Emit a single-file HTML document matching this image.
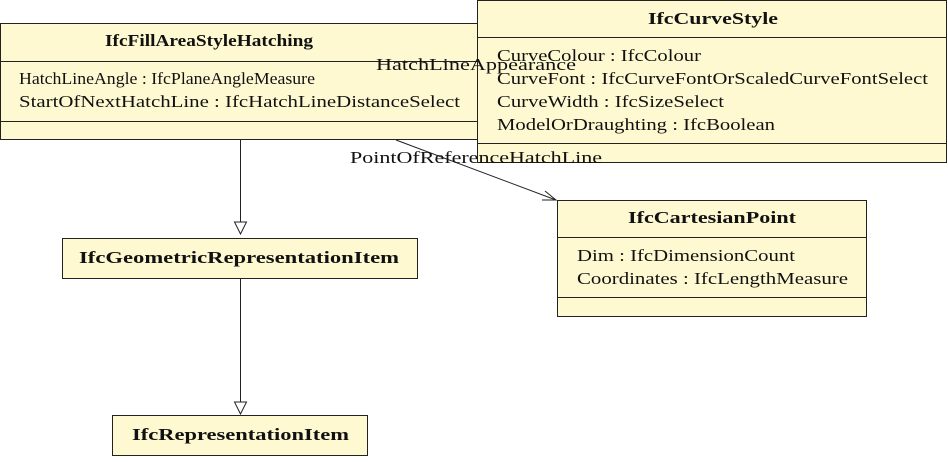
<!DOCTYPE html>
<html><head><meta charset="utf-8"><style>
body{margin:0;background:#fff;}
svg text{font-family:"Liberation Serif",serif;font-size:17px;fill:#111;}
.b{font-weight:bold;}
</style></head><body>
<svg width="948" height="457" viewBox="0 0 948 457" xmlns="http://www.w3.org/2000/svg">
<g stroke="#222" stroke-width="1" fill="#fff9d2">
<rect x="0.5" y="23.5" width="478" height="116"/>
<line x1="0" y1="61.5" x2="478" y2="61.5"/>
<line x1="0" y1="121.5" x2="478" y2="121.5"/>
</g>
<text class="b" x="105" y="46" textLength="208" lengthAdjust="spacingAndGlyphs">IfcFillAreaStyleHatching</text>
<text x="19" y="84" textLength="296" lengthAdjust="spacingAndGlyphs">HatchLineAngle : IfcPlaneAngleMeasure</text>
<text x="19" y="107" textLength="441" lengthAdjust="spacingAndGlyphs">StartOfNextHatchLine : IfcHatchLineDistanceSelect</text>
<g stroke="#222" stroke-width="1" fill="#fff9d2">
<rect x="477.5" y="0.5" width="469" height="162"/>
<line x1="477" y1="37.5" x2="947" y2="37.5"/>
<line x1="477" y1="143.5" x2="947" y2="143.5"/>
<rect x="557.5" y="200.5" width="309" height="116"/>
<line x1="557" y1="237.5" x2="867" y2="237.5"/>
<line x1="557" y1="297.5" x2="867" y2="297.5"/>
<rect x="62.5" y="238.5" width="355" height="40"/>
<rect x="112.5" y="415.5" width="255" height="40"/>
</g>
<text class="b" x="648" y="24" textLength="130" lengthAdjust="spacingAndGlyphs">IfcCurveStyle</text>
<text x="497" y="61" textLength="204" lengthAdjust="spacingAndGlyphs">CurveColour : IfcColour</text>
<text x="497" y="84" textLength="431" lengthAdjust="spacingAndGlyphs">CurveFont : IfcCurveFontOrScaledCurveFontSelect</text>
<text x="497" y="107" textLength="227" lengthAdjust="spacingAndGlyphs">CurveWidth : IfcSizeSelect</text>
<text x="497" y="130" textLength="278" lengthAdjust="spacingAndGlyphs">ModelOrDraughting : IfcBoolean</text>
<text class="b" x="628" y="223" textLength="168" lengthAdjust="spacingAndGlyphs">IfcCartesianPoint</text>
<text x="577" y="261" textLength="218" lengthAdjust="spacingAndGlyphs">Dim : IfcDimensionCount</text>
<text x="577" y="284" textLength="271" lengthAdjust="spacingAndGlyphs">Coordinates : IfcLengthMeasure</text>
<text class="b" x="79" y="263" textLength="320" lengthAdjust="spacingAndGlyphs">IfcGeometricRepresentationItem</text>
<text class="b" x="132" y="440" textLength="217" lengthAdjust="spacingAndGlyphs">IfcRepresentationItem</text>
<g stroke="#222" stroke-width="1" fill="none">
<line x1="240.5" y1="140" x2="240.5" y2="222"/>
<polygon points="234.5,222 246.5,222 240.5,234" fill="#fff"/>
<line x1="240.5" y1="279" x2="240.5" y2="402"/>
<polygon points="234.5,402 246.5,402 240.5,414" fill="#fff"/>
<line x1="396" y1="140" x2="556" y2="200"/>
<polyline points="545,191 556,200 542,200"/>
</g>
<text x="376" y="70" textLength="200" lengthAdjust="spacingAndGlyphs">HatchLineAppearance</text>
<text x="350" y="163" textLength="252" lengthAdjust="spacingAndGlyphs">PointOfReferenceHatchLine</text>
</svg>
</body></html>
